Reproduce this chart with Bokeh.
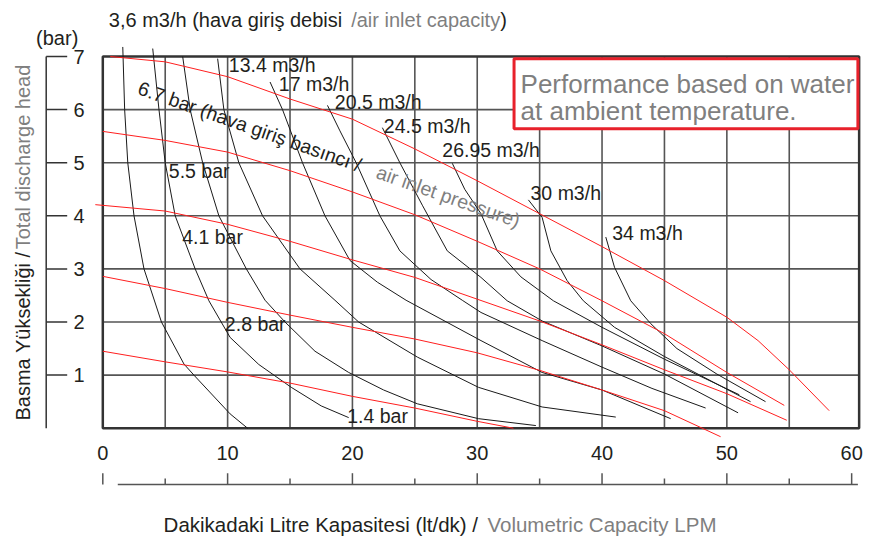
import math
from bokeh.plotting import figure
from bokeh.models import Range1d, Label, BoxAnnotation
from bokeh.embed import file_html
from bokeh.resources import INLINE
from bokeh.core.properties import value

FONT = "Liberation Sans"
BLACK = "#231f20"
GRAY = "#7f7f7f"
RED = "#ff1f1f"

# ---------------- data ----------------
flow_major = [0, 10, 20, 30, 40, 50, 60]
flow_minor = [5, 15, 25, 35, 45, 55]
head_ticks = [1, 2, 3, 4, 5, 6, 7]
grid_flow = [5, 10, 15, 20, 25, 30, 35, 40, 45, 50, 55]
grid_head = [1, 2, 3, 4, 5, 6]

# constant air-inlet-pressure curves (red)
p67_flow = [0.6, 5, 10, 15, 20, 25, 30, 35, 40, 45, 50, 52.5, 55, 58.2]
p67_head = [7.0, 6.9, 6.62, 6.2, 5.82, 5.26, 4.66, 4.04, 3.42, 2.78, 2.09, 1.65, 1.10, 0.33]
p55_flow = [0, 5, 10, 15, 20, 25, 30, 35, 40, 45, 50, 54.6]
p55_head = [5.59, 5.42, 5.2, 4.85, 4.45, 4.02, 3.52, 3.0, 2.40, 1.78, 1.05, 0.43]
p41_flow = [-0.6, 5, 10, 15, 20, 25, 30, 35, 40, 45, 50, 54.8]
p41_head = [4.21, 4.09, 3.84, 3.52, 3.17, 2.84, 2.43, 2.02, 1.57, 1.10, 0.65, 0.15]
p28_flow = [0, 5, 10, 15, 20, 25, 30, 35, 40, 45, 49.5]
p28_head = [2.86, 2.63, 2.37, 2.13, 1.90, 1.68, 1.42, 1.09, 0.72, 0.33, -0.16]
p14_flow = [0, 5, 10, 15, 20, 25, 30, 32.9]
p14_head = [1.45, 1.25, 1.06, 0.85, 0.60, 0.38, 0.13, 0.0]

# constant air-consumption curves (black)
a36_flow = [1.6, 1.75, 2.0, 2.5, 3.3, 4.7, 6.5, 7.3, 10.2, 11.6]
a36_head = [7.18, 6, 5, 4, 3, 2, 1.21, 1.0, 0.27, 0.0]
a7_flow = [4.0, 4.5, 5.0, 5.8, 7.4, 8.5, 10.2, 12.5, 15.1, 17.5, 19.7]
a7_head = [7.15, 6, 5, 4, 3, 2.4, 1.71, 1.2, 0.77, 0.42, 0.2]
a10_flow = [6.4, 7.0, 8.0, 9.3, 11.5, 13.0, 14.6, 17.0, 19.7, 22.5, 25.2, 30.1, 34.7]
a10_head = [7.0, 6, 5, 4, 3, 2.41, 2.0, 1.45, 1.05, 0.72, 0.46, 0.18, 0.05]
a134_flow = [9.2, 9.7, 10.9, 12.8, 15.8, 18.6, 20.5, 25.2, 30.1, 35.2, 41.1]
a134_head = [6.96, 6, 5, 4, 3, 2.41, 2.0, 1.34, 0.77, 0.40, 0.21]
a17_flow = [13.4, 14.4, 16.0, 17.8, 19.8, 22.0, 24.3, 30.3, 35.2, 40.0, 45.5]
a17_head = [6.52, 6, 5, 4, 3.16, 2.75, 2.41, 1.65, 1.05, 0.72, 0.18]
a205_flow = [18.0, 19.0, 20.3, 22.2, 23.8, 26.3, 28.8, 30.3, 35.2, 40.0, 44.0, 48.3]
a205_head = [6.08, 5.6, 5.0, 4.0, 3.34, 2.8, 2.41, 2.18, 1.65, 1.15, 0.75, 0.38]
a245_flow = [22.4, 23.8, 25.6, 27.6, 30.3, 32.4, 35.2, 40.0, 45.0, 50.9]
a245_head = [5.66, 5.0, 4.2, 3.34, 2.84, 2.40, 2.02, 1.55, 1.02, 0.29]
a2695_flow = [28.0, 29.0, 30.3, 31.6, 33.5, 36.1, 40.0, 45.0, 51.0]
a2695_head = [4.99, 4.5, 4.04, 3.34, 2.85, 2.40, 1.90, 1.30, 0.63]
a30_flow = [34.1, 35.2, 35.9, 37.2, 38.5, 41.0, 45.0, 48.0, 51.9]
a30_head = [4.30, 3.97, 3.34, 2.78, 2.40, 1.90, 1.35, 0.98, 0.50]
a34_flow = [40.3, 41.0, 42.3, 43.9, 46.0, 49.2, 53.1]
a34_head = [3.6, 3.03, 2.4, 1.97, 1.5, 1.02, 0.5]

pressure_curves = [(p67_flow, p67_head), (p55_flow, p55_head), (p41_flow, p41_head),
                   (p28_flow, p28_head), (p14_flow, p14_head)]
air_curves = [(a36_flow, a36_head), (a7_flow, a7_head), (a10_flow, a10_head),
              (a134_flow, a134_head), (a17_flow, a17_head), (a205_flow, a205_head),
              (a245_flow, a245_head), (a2695_flow, a2695_head), (a30_flow, a30_head),
              (a34_flow, a34_head)]

FLOW_MAX = 60.6
HEAD_MAX = 7

# layout offsets (data units) of the hand-placed axes
Y_AXIS_X = -4.535
Y_TICK_END = -2.853
Y_LABEL_X = -1.466
X_LABEL_Y = -0.458
X_AXIS_Y = -1.06
X_MAJOR_END = -0.847
X_MINOR_END = -0.947

# ---------------- figure ----------------
p = figure(width=871, height=537, x_range=Range1d(-8.197, 61.59), y_range=Range1d(-2.058, 8.055),
           x_axis_type=None, y_axis_type=None, toolbar_location=None, output_backend="svg",
           min_border=0, title=None)
p.outline_line_color = None
p.background_fill_color = "white"
p.border_fill_color = "white"
p.grid.visible = False

# grid
p.segment(x0=grid_flow, y0=[0] * len(grid_flow), x1=grid_flow, y1=[HEAD_MAX] * len(grid_flow),
          line_color="#555555", line_width=1.6)
p.segment(x0=[0] * len(grid_head), y0=grid_head, x1=[FLOW_MAX] * len(grid_head), y1=grid_head,
          line_color="#555555", line_width=1.6)
# frame
p.quad(left=[0], right=[FLOW_MAX], bottom=[0], top=[HEAD_MAX], fill_color=None,
       line_color="#333333", line_width=2.5)

for fx, hy in air_curves:
    p.line(fx, hy, line_color="#1a1a1a", line_width=1)
for fx, hy in pressure_curves:
    p.line(fx, hy, line_color=RED, line_width=1)

# ---------------- axes (drawn through the data scales) ----------------
p.segment(x0=[Y_AXIS_X], y0=[0], x1=[Y_AXIS_X], y1=[HEAD_MAX], line_color="#333333", line_width=1.5)
p.segment(x0=[Y_AXIS_X] * len(head_ticks), y0=head_ticks, x1=[Y_TICK_END] * len(head_ticks),
          y1=head_ticks, line_color="#333333", line_width=1.5)
p.text(x=[Y_LABEL_X] * len(head_ticks), y=head_ticks, text=[str(t) for t in head_ticks],
       text_font=value(FONT), text_font_size="20px", text_color=BLACK,
       text_align="right", text_baseline="middle")

p.text(x=flow_major, y=[X_LABEL_Y] * len(flow_major), text=[str(t) for t in flow_major],
       text_font=value(FONT), text_font_size="20px", text_color=BLACK,
       text_align="center", text_baseline="middle")
p.segment(x0=[1.2], y0=[X_AXIS_Y], x1=[60.5], y1=[X_AXIS_Y], line_color="#555555", line_width=1.5)
p.segment(x0=flow_major, y0=[X_AXIS_Y] * len(flow_major), x1=flow_major,
          y1=[X_MAJOR_END] * len(flow_major), line_color="#555555", line_width=1.5)
p.segment(x0=flow_minor, y0=[X_AXIS_Y] * len(flow_minor), x1=flow_minor,
          y1=[X_MINOR_END] * len(flow_minor), line_color="#555555", line_width=1.5)


def lab(x, y, text, color=BLACK, size="19.5px", align="left", baseline="middle", angle=0.0):
    p.add_layout(Label(x=x, y=y, text=text, text_color=color, text_font=FONT,
                       text_font_size=size, text_align=align, text_baseline=baseline,
                       angle=angle))


# curve labels
lab(10.10, 6.846, "13.4 m3/h")
lab(14.10, 6.486, "17 m3/h")
lab(18.59, 6.139, "20.5 m3/h")
lab(22.52, 5.685, "24.5 m3/h")
lab(27.20, 5.245, "26.95 m3/h")
lab(34.27, 4.429, "30 m3/h")
lab(40.82, 3.676, "34 m3/h")
lab(5.29, 4.853, "5.5 bar")
lab(6.36, 3.597, "4.1 bar")
lab(9.78, 1.966, "2.8 bar")
lab(19.58, 0.239, "1.4 bar")

rot = -math.radians(19.4)
lab(2.885, 6.422, "6.7 bar (hava giriş basıncı /", angle=rot)
lab(21.99, 4.842, "air inlet pressure)", color=GRAY, angle=rot)

# top title
lab(0.481, 7.697, "3,6 m3/h (hava giriş debisi ", size="20px")
lab(19.90, 7.697, "/air inlet capacity", color=GRAY, size="20px")
lab(31.85, 7.697, ")", size="20px")

# y axis title
lab(-3.654, 7.348, "(bar)", size="20px", align="center")
lab(-6.434, 0.145, "Basma Yüksekliği /", size="20px", angle=math.pi / 2)
lab(-6.434, 3.37, "Total discharge head", color=GRAY, size="20px", angle=math.pi / 2)

# x axis title
lab(4.872, -1.805, "Dakikadaki Litre Kapasitesi (lt/dk) /", size="20.5px")
lab(30.82, -1.805, "Volumetric Capacity LPM", color=GRAY, size="20.5px")

# note box
p.add_layout(BoxAnnotation(left=32.95, right=60.5, top=6.96, bottom=5.64,
                           fill_color="white", fill_alpha=1.0,
                           line_color="#e8212b", line_alpha=1.0, line_width=3))
lab(33.47, 6.486, "Performance based on water", color=GRAY, size="26px", baseline="alphabetic")
lab(33.47, 5.983, "at ambient temperature.", color=GRAY, size="26px", baseline="alphabetic")

open("out.html", "w").write(file_html(p, INLINE))
